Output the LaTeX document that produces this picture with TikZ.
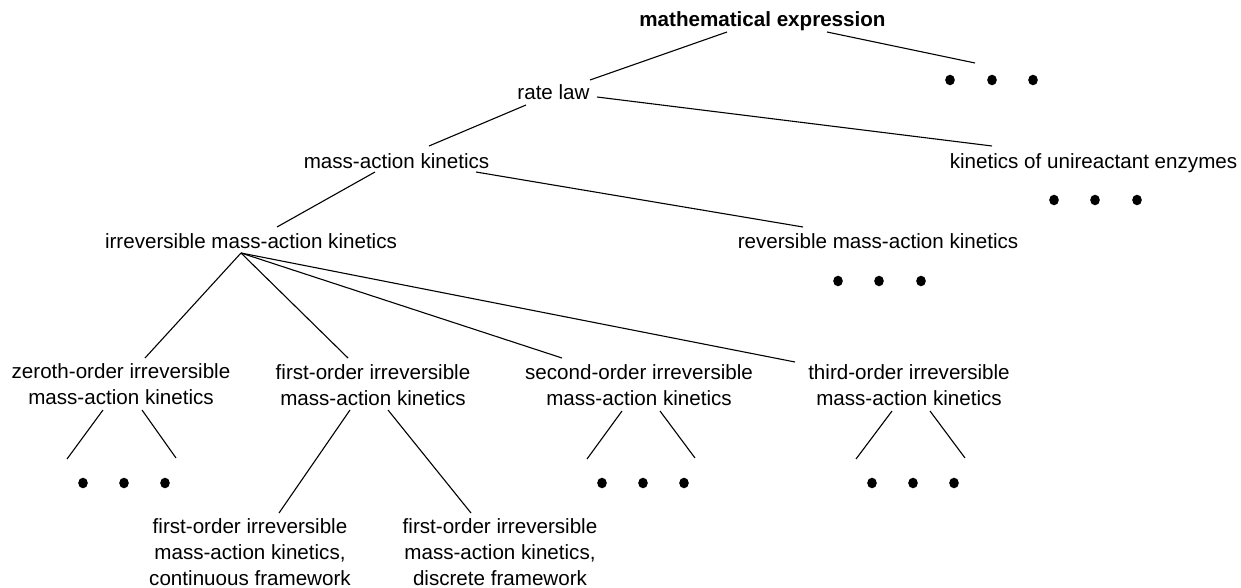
\documentclass[tikz,border=0pt]{standalone}
\usepackage{fontspec}
\setmainfont{Liberation Sans}
\usetikzlibrary{shapes.geometric}
\begin{document}
\begin{tikzpicture}[x=1pt,y=-1pt,
  lbl/.style={inner sep=0pt,anchor=base,align=center,font=\fontsize{20.6pt}{25.8pt}\selectfont},
  ttl/.style={lbl,font=\fontsize{20.6pt}{25.8pt}\selectfont\bfseries},
  dotnode/.style={ellipse,fill=black,inner sep=0pt,minimum width=9.6pt,minimum height=10.6pt},
  edge/.style={line width=1.1pt}]
\useasboundingbox (0,0) rectangle (1241,588);
% labels (anchor = baseline of last line)
\node[ttl] (me) at (762.5,27) {mathematical expression};
\node[lbl] (rl) at (553.5,100) {rate law};
\node[lbl] (mak) at (396.5,168) {mass-action kinetics};
\node[lbl] (kue) at (1093.5,168) {kinetics of unireactant enzymes};
\node[lbl] (irr) at (251,248) {irreversible mass-action kinetics};
\node[lbl] (rev) at (878,248) {reversible mass-action kinetics};
\node[lbl] (zo) at (121,404) {zeroth-order irreversible\\mass-action kinetics};
\node[lbl] (fo) at (373,405) {first-order irreversible\\mass-action kinetics};
\node[lbl] (so) at (639,405) {second-order irreversible\\mass-action kinetics};
\node[lbl] (to) at (909,405) {third-order irreversible\\mass-action kinetics};
\node[lbl] (foc) at (250,585) {first-order irreversible\\mass-action kinetics,\\continuous framework};
\node[lbl] (fod) at (500,585) {first-order irreversible\\mass-action kinetics,\\discrete framework};
% dots
\foreach \n/\x/\y in {a1/950/80,a2/992/80,a3/1033/80,
  b1/1054/200,b2/1095/200,b3/1137/200,
  c1/838/281,c2/879/281,c3/921/281,
  z1/83/483,z2/124/483,z3/165/483,
  s1/602/483,s2/643/483,s3/684/483,
  t1/872/483,t2/913/483,t3/954/483}
  \node[dotnode] (\n) at (\x,\y) {};
% connector ends
\coordinate (me-l) at (727,32);
\coordinate (me-r) at (827,32);
\coordinate (a-top) at (975,63);
\coordinate (rl-t) at (590,80);
\coordinate (rl-l) at (526,105);
\coordinate (rl-r) at (597,97);
\coordinate (mak-t) at (429,146);
\coordinate (kue-t) at (992,146);
\coordinate (mak-l) at (375,172);
\coordinate (mak-r) at (476,172);
\coordinate (irr-t) at (277,227);
\coordinate (rev-t) at (803,227);
\coordinate (irr-b) at (241,253);
\coordinate (zo-t) at (145,358);
\coordinate (fo-t) at (348,358);
\coordinate (so-t) at (562,358);
\coordinate (to-t) at (795,362);
\coordinate (zo-bl) at (103,410);
\coordinate (zo-br) at (142,410);
\coordinate (z-l) at (67,459);
\coordinate (z-r) at (176,458);
\coordinate (fo-bl) at (350,410);
\coordinate (fo-br) at (388,410);
\coordinate (foc-t) at (279,513);
\coordinate (fod-t) at (471,513);
\coordinate (so-bl) at (622,411);
\coordinate (so-br) at (660,411);
\coordinate (s-l) at (587,459);
\coordinate (s-r) at (695,458);
\coordinate (to-bl) at (892,411);
\coordinate (to-br) at (930,411);
\coordinate (t-l) at (856,459);
\coordinate (t-r) at (965,458);
% connectors
\draw[edge] (me-l) -- (rl-t);
\draw[edge] (me-r) -- (a-top);
\draw[edge] (rl-l) -- (mak-t);
\draw[edge] (rl-r) -- (kue-t);
\draw[edge] (mak-l) -- (irr-t);
\draw[edge] (mak-r) -- (rev-t);
\draw[edge] (irr-b) -- (zo-t);
\draw[edge] (irr-b) -- (fo-t);
\draw[edge] (irr-b) -- (so-t);
\draw[edge] (irr-b) -- (to-t);
\draw[edge] (zo-bl) -- (z-l);
\draw[edge] (zo-br) -- (z-r);
\draw[edge] (fo-bl) -- (foc-t);
\draw[edge] (fo-br) -- (fod-t);
\draw[edge] (so-bl) -- (s-l);
\draw[edge] (so-br) -- (s-r);
\draw[edge] (to-bl) -- (t-l);
\draw[edge] (to-br) -- (t-r);
\end{tikzpicture}
\end{document}
